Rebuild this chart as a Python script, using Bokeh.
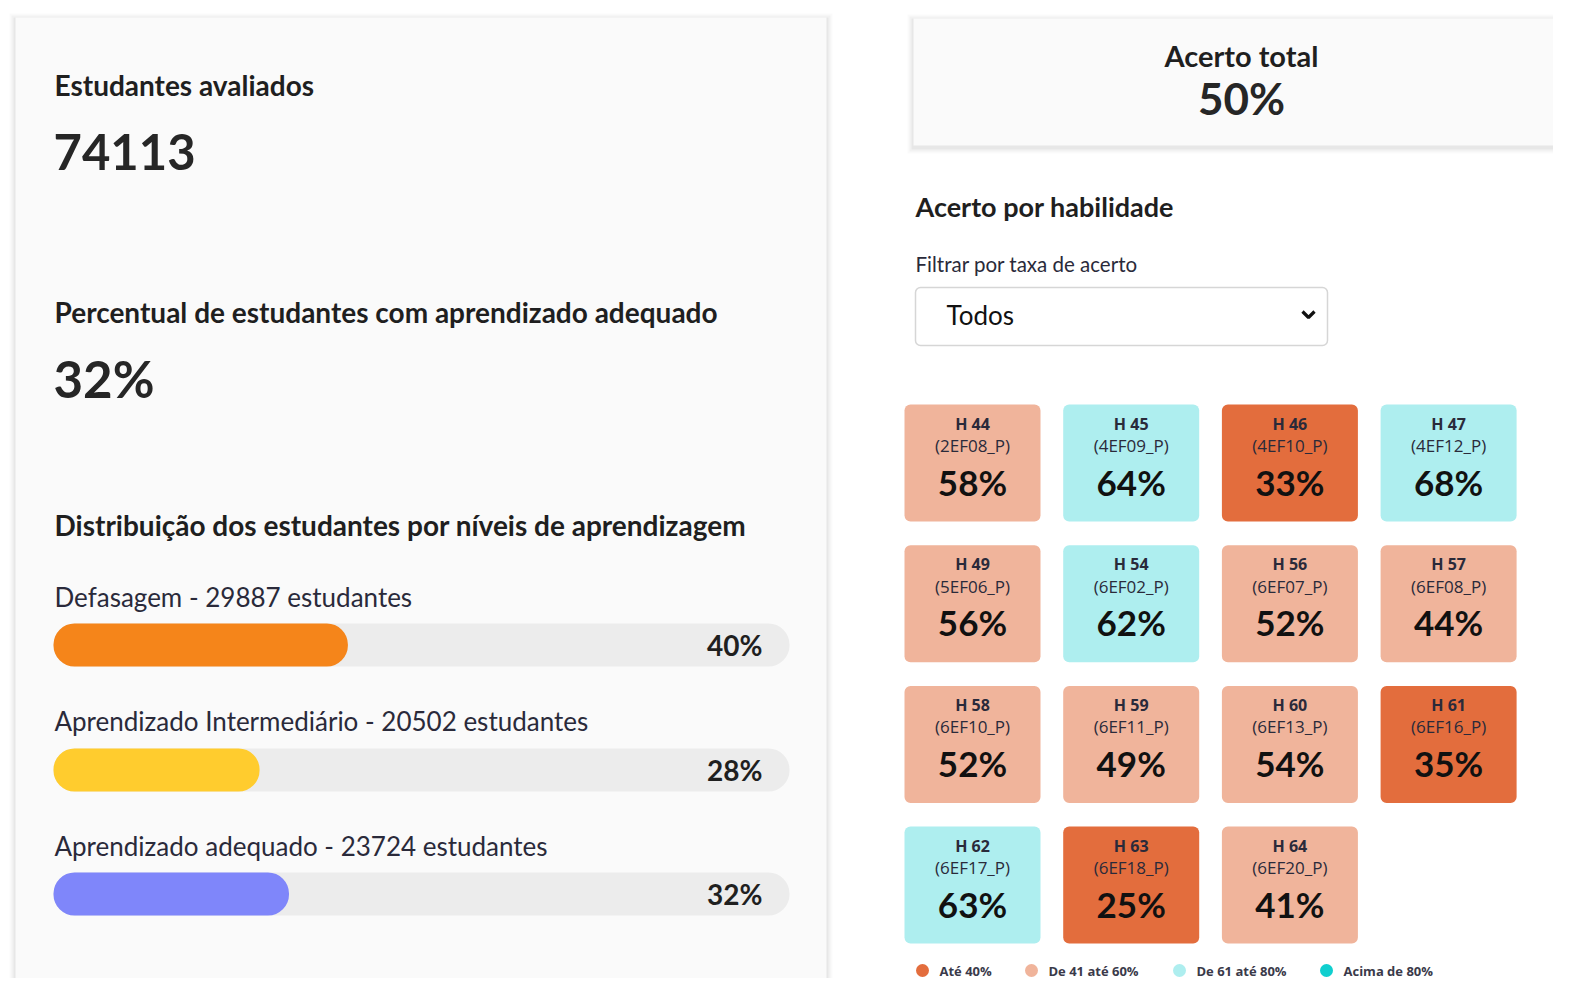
from bokeh.plotting import figure
from bokeh.models import Range1d, ColumnDataSource
from bokeh.core.properties import value
from bokeh.embed import file_html
from bokeh.resources import INLINE

# ---------------- data ----------------
total_students = 74113
adequate_pct = 32
overall_accuracy = 50

level_names = ["Defasagem", "Aprendizado Intermediário", "Aprendizado adequado"]
level_counts = [29887, 20502, 23724]
level_pcts = [40, 28, 32]
level_colors = ["#F5851A", "#FFCC2E", "#7F86FA"]

skill_ids = ["H 44", "H 45", "H 46", "H 47", "H 49", "H 54", "H 56", "H 57",
             "H 58", "H 59", "H 60", "H 61", "H 62", "H 63", "H 64"]
skill_codes = ["(2EF08_P)", "(4EF09_P)", "(4EF10_P)", "(4EF12_P)", "(5EF06_P)",
               "(6EF02_P)", "(6EF07_P)", "(6EF08_P)", "(6EF10_P)", "(6EF11_P)",
               "(6EF13_P)", "(6EF16_P)", "(6EF17_P)", "(6EF18_P)", "(6EF20_P)"]
skill_pcts = [58, 64, 33, 68, 56, 62, 52, 44, 52, 49, 54, 35, 63, 25, 41]

band_labels = ["Até 40%", "De 41 até 60%", "De 61 até 80%", "Acima de 80%"]
band_upper = [40, 60, 80, 100]
band_colors = ["#E36D3D", "#F0B49B", "#AEEEEF", "#10CFCF"]

FONT = "Lato"
DARK = "#1f1f1f"

# ---------------- figure (page-pixel coordinates) ----------------
p = figure(width=1553, height=978, x_range=Range1d(0, 1553), y_range=Range1d(978, 0),
           output_backend="svg", toolbar_location=None, min_border=0,
           background_fill_color="white", border_fill_color="white")
p.axis.visible = False
p.grid.visible = False
p.outline_line_color = None


def txt(x, y, t, size, bold=False, color=DARK, align="left", font=FONT):
    p.text(x=[x], y=[y], text=[t], text_font=value(font), text_font_size=value(size),
           text_font_style="bold" if bold else "normal", text_color=color,
           text_align=align, text_baseline="middle")


def panel(l, r, t, b):
    for k, a in [(6, 0.02), (4, 0.03), (2, 0.045)]:
        p.quad(left=[l - k], right=[r + k], top=[t - k + 2], bottom=[b + k + 2],
               fill_color="#000000", fill_alpha=a, line_color=None)
    p.quad(left=[l], right=[r], top=[t], bottom=[b], fill_color="#fafafa", line_color=None)


# ---------------- left panel ----------------
panel(15, 826, 17, 990)
txt(54, 84, "Estudantes avaliados", "28px", bold=True)
txt(53, 151, str(total_students), "49px", bold=True, color="#262626")
txt(54, 311, "Percentual de estudantes com aprendizado adequado", "28px", bold=True)
txt(53, 378, f"{adequate_pct}%", "51px", bold=True, color="#262626")
txt(54, 524, "Distribuição dos estudantes por níveis de aprendizagem", "28px", bold=True)

bar_top = [623, 748, 872]
bar_h = 43
label_y = [596, 720, 845]
bars = p.subplot(x_source=Range1d(0, 100), x_target=Range1d(53, 789),
                 y_source=Range1d(0, 1), y_target=Range1d(0, 1))
for i in range(3):
    txt(54, label_y[i], f"{level_names[i]} - {level_counts[i]} estudantes", "26px",
        color="#2a2a3a")
    bars.quad(left=[0], right=[100], top=[bar_top[i]], bottom=[bar_top[i] + bar_h],
              fill_color="#ececec", line_color=None, border_radius=21)
    bars.quad(left=[0], right=[level_pcts[i]], top=[bar_top[i]], bottom=[bar_top[i] + bar_h],
              fill_color=level_colors[i], line_color=None, border_radius=21)
    txt(762, bar_top[i] + bar_h / 2, f"{level_pcts[i]}%", "28px", bold=True, align="right")

# ---------------- right side ----------------
panel(913, 1580, 18, 145)
txt(1241, 55, "Acerto total", "29px", bold=True, align="center")
txt(1241, 97, f"{overall_accuracy}%", "44px", bold=True, align="center", color="#262626")

txt(915, 206, "Acerto por habilidade", "27px", bold=True)
txt(915, 263, "Filtrar por taxa de acerto", "20.5px", color="#2a2a3a")
p.quad(left=[915], right=[1327], top=[287], bottom=[345], fill_color="white",
       line_color="#d6d6d6", line_width=1.5, border_radius=5)
txt(946, 314, "Todos", "26px", color="#111111")
p.line(x=[1302, 1308, 1314], y=[311, 317, 311], line_color="#111111", line_width=3.2)

# tiles
def band_of(v):
    for k, u in enumerate(band_upper):
        if v <= u:
            return k
    return len(band_upper) - 1

tile_w, tile_h = 136, 117
step_x, step_y = 158.7, 140.7
x0, y0 = 904, 404
L, R, T, B, CX, COL = [], [], [], [], [], []
for i, v in enumerate(skill_pcts):
    c, r = i % 4, i // 4
    l = x0 + c * step_x
    t = y0 + r * step_y
    L.append(l); R.append(l + tile_w); T.append(t); B.append(t + tile_h)
    CX.append(l + tile_w / 2); COL.append(band_colors[band_of(v)])
src = ColumnDataSource(dict(left=L, right=R, top=T, bottom=B, cx=CX, color=COL,
                            hid=skill_ids, code=skill_codes,
                            pct=[f"{v}%" for v in skill_pcts],
                            y1=[t + 19 for t in T], y2=[t + 41 for t in T], y3=[t + 77 for t in T]))
p.quad(left="left", right="right", top="top", bottom="bottom", fill_color="color",
       line_color=None, border_radius=6, source=src)
p.text(x="cx", y="y1", text="hid", source=src, text_font=value("Open Sans"),
       text_font_size=value("16px"), text_font_style="bold", text_color="#2a2a3a",
       text_align="center", text_baseline="middle")
p.text(x="cx", y="y2", text="code", source=src, text_font=value("Open Sans"),
       text_font_size=value("17px"), text_color="#2a2a3a", text_align="center",
       text_baseline="middle")
p.text(x="cx", y="y3", text="pct", source=src, text_font=value(FONT), text_font_size=value("35px"),
       text_font_style="bold", text_color="#111111", text_align="center", text_baseline="middle")

# legend
leg_x = [922, 1031, 1179, 1326]
for k in range(4):
    p.scatter(x=[leg_x[k]], y=[970], size=13, marker="circle", fill_color=band_colors[k],
              line_color=None)
    txt(leg_x[k] + 17, 970, band_labels[k], "13px", bold=True, color="#3a3a4a",
        font="Open Sans")

open("out.html", "w").write(file_html(p, INLINE))
